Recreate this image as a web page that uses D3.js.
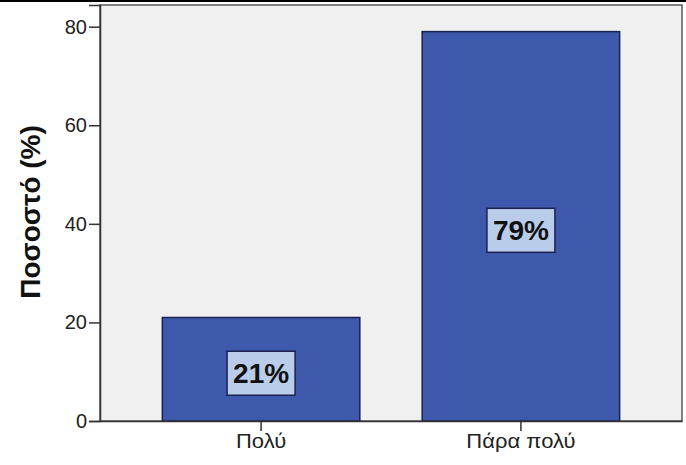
<!DOCTYPE html>
<html>
<head>
<meta charset="utf-8">
<script src="https://cdn.jsdelivr.net/npm/d3@7"></script>
<style>
  html, body { margin: 0; padding: 0; background: #ffffff; }
  svg { display: block; font-family: "Liberation Sans", Arial, sans-serif; }
</style>
</head>
<body>
<svg id="chart" width="686" height="465"></svg>
<script>
// Response categories and their percentages
const categories = ["Πολύ", "Πάρα πολύ"];
const percentages = [21, 79];
const yTicks = [0, 20, 40, 60, 80];
const yTitle = "Ποσοστό (%)";

const svg = d3.select("#chart");
const W = 686, H = 465;
const plot = { left: 100, right: 682, top: 5, bottom: 421 };

// rule across the top of the page
svg.append("rect").attr("x", 0).attr("y", 0).attr("width", W).attr("height", 2).attr("fill", "#000");

const x = d3.scaleBand()
  .domain(categories)
  .range([plot.left, plot.right])
  .paddingInner(0.24)
  .paddingOuter(0.24);

const y = d3.scaleLinear()
  .domain([0, 84.4])
  .range([plot.bottom, plot.top]);

// plot background with frame
svg.append("rect")
  .attr("x", plot.left).attr("y", plot.top)
  .attr("width", plot.right - plot.left).attr("height", plot.bottom - plot.top)
  .attr("fill", "#f0f0f0")
  .attr("stroke", "#5a5a5a").attr("stroke-width", 1.5);

// bars
svg.append("g").selectAll("rect")
  .data(categories)
  .join("rect")
  .attr("x", d => x(d))
  .attr("y", (d, i) => y(percentages[i]))
  .attr("width", x.bandwidth())
  .attr("height", (d, i) => y(0) - y(percentages[i]))
  .attr("fill", "#3e58ab")
  .attr("stroke", "#1b2150").attr("stroke-width", 1.5);

// y axis
const yAxis = svg.append("g")
  .attr("transform", `translate(${plot.left},0)`)
  .call(d3.axisLeft(y).tickValues(yTicks).tickSize(11).tickPadding(2).tickFormat(d3.format("d")));
yAxis.select(".domain").attr("stroke", "#333").attr("stroke-width", 1.5);
yAxis.selectAll(".tick line").attr("stroke", "#333").attr("stroke-width", 1.5);
yAxis.selectAll(".tick text").attr("font-size", 20).attr("fill", "#222")
  .attr("font-family", "Liberation Sans, Arial, sans-serif");

// x axis
const xAxis = svg.append("g")
  .attr("transform", `translate(0,${plot.bottom})`)
  .call(d3.axisBottom(x).tickSize(10).tickPadding(3).tickSizeOuter(0));
xAxis.select(".domain").attr("stroke", "#333").attr("stroke-width", 1.5);
xAxis.selectAll(".tick line").attr("stroke", "#333").attr("stroke-width", 1.5);
xAxis.selectAll(".tick text").attr("font-size", 20).attr("fill", "#222")
  .attr("font-family", "Liberation Sans, Arial, sans-serif")
  .attr("transform", "scale(1.1,1)");

// y axis title
svg.append("text")
  .attr("transform", `translate(40,212) rotate(-90)`)
  .attr("text-anchor", "middle")
  .attr("font-size", 28).attr("font-weight", "bold").attr("fill", "#111")
  .text(yTitle);

// value labels in boxes
const labels = svg.append("g").selectAll("g")
  .data(categories)
  .join("g")
  .attr("transform", (d, i) => {
    const cy = (y(percentages[i]) + y(0)) / 2 + 4;
    return `translate(${x(d) + x.bandwidth() / 2},${cy})`;
  });
labels.append("rect")
  .attr("x", -34).attr("y", -22).attr("width", 68).attr("height", 44)
  .attr("fill", "#b9cdea").attr("stroke", "#1b2150").attr("stroke-width", 1.5);
labels.append("text")
  .attr("text-anchor", "middle").attr("dy", "0.36em")
  .attr("font-size", 28).attr("font-weight", "bold").attr("fill", "#111")
  .text((d, i) => percentages[i] + "%");
</script>
</body>
</html>
